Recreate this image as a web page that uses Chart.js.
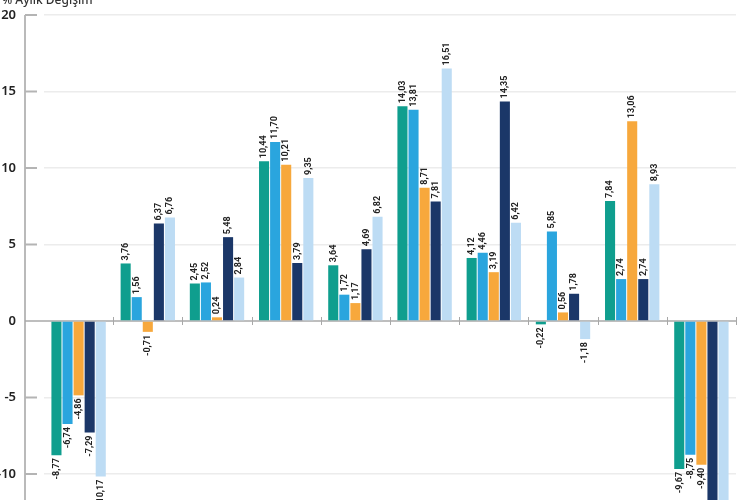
<!DOCTYPE html>
<html lang="tr">
<head>
<meta charset="utf-8">
<title>Aylık Değişim</title>
<script src="https://cdn.jsdelivr.net/npm/chart.js@4.4.1/dist/chart.umd.min.js"></script>
<style>
    html, body { margin: 0; padding: 0; background: #fff; }
    #wrap { width: 750px; height: 500px; position: relative; }
</style>
</head>
<body>
<div id="wrap"><canvas id="monthlyChart"></canvas></div>
<script>
const categories = ['1', '2', '3', '4', '5', '6', '7', '8', '9', '10'];
const seriesNames = ['Seri 1', 'Seri 2', 'Seri 3', 'Seri 4', 'Seri 5'];
const seriesColors = ['#0f9e8e', '#2aa5de', '#f7a83c', '#1b3768', '#bddcf4'];
const series1 = [-8.77, 3.76, 2.45, 10.44, 3.64, 14.03, 4.12, -0.22, 7.84, -9.67];
const series2 = [-6.74, 1.56, 2.52, 11.70, 1.72, 13.81, 4.46, 5.85, 2.74, -8.75];
const series3 = [-4.86, -0.71, 0.24, 10.21, 1.17, 8.71, 3.19, 0.56, 13.06, -9.40];
const series4 = [-7.29, 6.37, 5.48, 3.79, 4.69, 7.81, 14.35, 1.78, 2.74, -13.1];
const series5 = [-10.17, 6.76, 2.84, 9.35, 6.82, 16.51, 6.42, -1.18, 8.93, -12.6];
const yTicks = [20, 15, 10, 5, 0, -5, -10];
const axisTitle = '% Aylık Değişim';

document.addEventListener('DOMContentLoaded', () => {
    const allSeries = [series1, series2, series3, series4, series5];

    const fmt = v => v.toFixed(2).replace('.', ',');

    const decorPlugin = {
        id: 'decor',
        beforeDatasetsDraw(chart) {
            const { ctx, chartArea, scales } = chart;
            const y = scales.y;
            const axisX = chartArea.left - 19;
            const y0 = y.getPixelForValue(0);
            const line = (x1, y1, x2, y2) => {
                ctx.beginPath();
                ctx.moveTo(x1, y1);
                ctx.lineTo(x2, y2);
                ctx.stroke();
            };
            ctx.save();
            // y axis line
            ctx.strokeStyle = '#a3a3a3';
            ctx.lineWidth = 1.5;
            line(axisX, chartArea.top, axisX, chartArea.bottom);
            // short tick marks next to the axis
            ctx.strokeStyle = '#b4b4b4';
            ctx.lineWidth = 2;
            yTicks.forEach(v => {
                if (v === 0) return;
                const py = y.getPixelForValue(v);
                line(axisX, py, axisX + 12, py);
            });
            // zero line
            ctx.strokeStyle = '#a8a8a8';
            ctx.lineWidth = 1.5;
            line(axisX, y0, chartArea.right, y0);
            // group separators on zero line
            const w = (chartArea.right - chartArea.left) / categories.length;
            ctx.lineWidth = 1;
            for (let i = 1; i <= categories.length; i++) {
                const px = Math.round(chartArea.left + i * w) + 0.5;
                line(px, y0 - 4, px, y0 + 4);
            }
            ctx.restore();
        },
        afterDatasetsDraw(chart) {
            const { ctx } = chart;
            ctx.save();
            ctx.font = 'bold 9px Roboto, sans-serif';
            ctx.fillStyle = '#222';
            ctx.textBaseline = 'middle';
            chart.data.datasets.forEach((ds, di) => {
                const meta = chart.getDatasetMeta(di);
                meta.data.forEach((bar, i) => {
                    const v = ds.data[i];
                    ctx.save();
                    ctx.translate(bar.x, bar.y);
                    ctx.rotate(-Math.PI / 2);
                    if (v >= 0) {
                        ctx.textAlign = 'left';
                        ctx.fillText(fmt(v), 3, 0);
                    } else {
                        ctx.textAlign = 'right';
                        ctx.fillText(fmt(v), -3, 0);
                    }
                    ctx.restore();
                });
            });
            ctx.restore();
        },
        afterDraw(chart) {
            const { ctx } = chart;
            ctx.save();
            ctx.font = '500 12px "Noto Sans", sans-serif';
            ctx.fillStyle = '#333';
            ctx.textAlign = 'left';
            ctx.textBaseline = 'alphabetic';
            ctx.fillText(axisTitle, 2, 4);
            ctx.restore();
        }
    };

    new Chart(document.getElementById('monthlyChart'), {
        type: 'bar',
        data: {
            labels: categories,
            datasets: allSeries.map((data, i) => ({
                label: seriesNames[i],
                data: data,
                backgroundColor: seriesColors[i],
                borderWidth: 0,
                categoryPercentage: 0.8,
                barPercentage: 0.91
            }))
        },
        options: {
            responsive: true,
            maintainAspectRatio: false,
            animation: false,
            layout: {
                padding: { top: 15, right: 14, left: 0, bottom: 0 }
            },
            scales: {
                x: {
                    display: false
                },
                y: {
                    min: -11.7,
                    max: 20,
                    afterBuildTicks: scale => {
                        scale.ticks = yTicks.map(v => ({ value: v }));
                    },
                    afterFit: scale => {
                        scale.width = 44;
                        scale.paddingTop = 0;
                        scale.paddingBottom = 0;
                    },
                    border: { display: false },
                    grid: {
                        drawTicks: false,
                        tickLength: 0,
                        lineWidth: 1.5,
                        color: ctx => ctx.tick && ctx.tick.value === 0 ? 'rgba(0,0,0,0)' : '#ececec'
                    },
                    ticks: {
                        padding: 28,
                        color: '#222',
                        font: { family: '"Noto Sans", sans-serif', size: 13, weight: '600' },
                        callback: v => v
                    }
                }
            },
            plugins: {
                legend: { display: false },
                tooltip: { enabled: false }
            }
        },
        plugins: [decorPlugin]
    });
});
</script>
</body>
</html>
